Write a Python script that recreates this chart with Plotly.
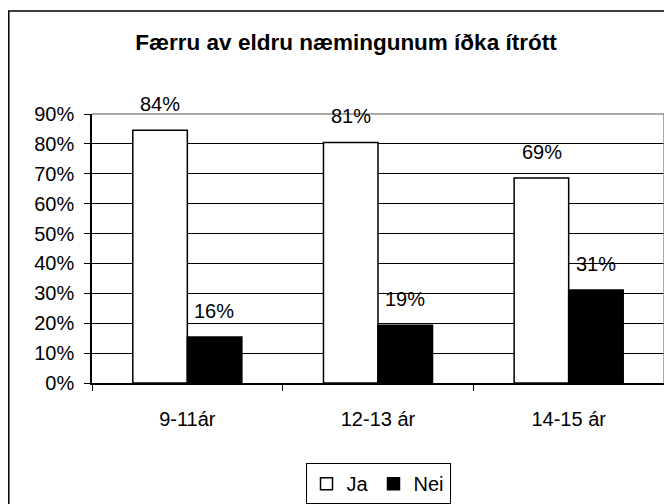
import plotly.graph_objects as go

categories = ["9-11ár", "12-13 ár", "14-15 ár"]
ja_values = [0.846, 0.805, 0.686]
nei_values = [0.154, 0.193, 0.311]
ja_labels = ["84%", "81%", "69%"]
nei_labels = ["16%", "19%", "31%"]
y_tick_vals = [0, 0.1, 0.2, 0.3, 0.4, 0.5, 0.6, 0.7, 0.8, 0.9]
title_text = "Færru av eldru næmingunum íðka ítrótt"

FONT = "Arial, 'Liberation Sans', sans-serif"

fig = go.Figure()
fig.add_trace(go.Bar(
    name="Ja", x=categories, y=ja_values,
    marker=dict(color="white", line=dict(color="black", width=1.5)),
    hoverinfo="skip",
))
fig.add_trace(go.Bar(
    name="Nei", x=categories, y=nei_values,
    marker=dict(color="black", line=dict(color="black", width=1.5)),
    hoverinfo="skip",
))

annotations = []
for cat, v, lab in zip(categories, ja_values, ja_labels):
    annotations.append(dict(x=cat, y=v, xref="x", yref="y", text=lab, showarrow=False,
                            xshift=-27, yshift=26, yanchor="middle",
                            font=dict(family=FONT, size=20, color="black")))
for cat, v, lab in zip(categories, nei_values, nei_labels):
    annotations.append(dict(x=cat, y=v, xref="x", yref="y", text=lab, showarrow=False,
                            xshift=27, yshift=26, yanchor="middle",
                            font=dict(family=FONT, size=20, color="black")))

shapes = [
    # plot area border top/right (gray)
    dict(type="line", xref="paper", yref="paper", x0=0, x1=1, y0=1, y1=1,
         line=dict(color="#8c8c8c", width=1.5), layer="above"),
    dict(type="line", xref="paper", yref="paper", x0=1, x1=1, y0=0, y1=1,
         line=dict(color="#8c8c8c", width=1.5), layer="above"),
    # outer chart border
    dict(type="rect", xref="paper", yref="paper", x0=-0.1455, x1=1.2, y0=-0.6, y1=1.383,
         line=dict(color="black", width=1.5)),
]

fig.update_layout(
    width=672, height=504,
    margin=dict(l=84, r=16, t=106, b=129, autoexpand=False),
    paper_bgcolor="white", plot_bgcolor="white",
    barmode="group", bargap=0.428, bargroupgap=0,
    title=dict(text="<b>" + title_text + "</b>", x=338 / 672, xanchor="center",
               y=1 - 34 / 504, yanchor="middle", xref="container", yref="container",
               font=dict(family=FONT, size=22.5, color="black")),
    font=dict(family=FONT, size=20, color="black"),
    showlegend=True,
    legend=dict(orientation="h", x=0.5, xanchor="center", y=-0.298, yanchor="top",
                bordercolor="black", borderwidth=1, bgcolor="white",
                font=dict(family=FONT, size=20, color="black"),
                itemwidth=30, tracegroupgap=0),
    annotations=annotations,
    shapes=shapes,
)

fig.update_xaxes(
    type="category", showline=True, linecolor="black", linewidth=1.5,
    ticks="outside", tickson="boundaries", ticklen=6, tickcolor="black", tickwidth=1,
    showgrid=False, ticklabelstandoff=17, automargin=False,
    tickfont=dict(family=FONT, size=20, color="black"),
)
fig.update_yaxes(
    range=[0, 0.9], tickvals=y_tick_vals, tickformat=".0%",
    showline=True, linecolor="black", linewidth=1.5,
    ticks="outside", ticklen=6, tickcolor="black", tickwidth=1,
    showgrid=True, gridcolor="black", gridwidth=1, zeroline=False,
    ticklabelstandoff=6, automargin=False,
    tickfont=dict(family=FONT, size=20, color="black"),
)

fig.write_html("out.html")
